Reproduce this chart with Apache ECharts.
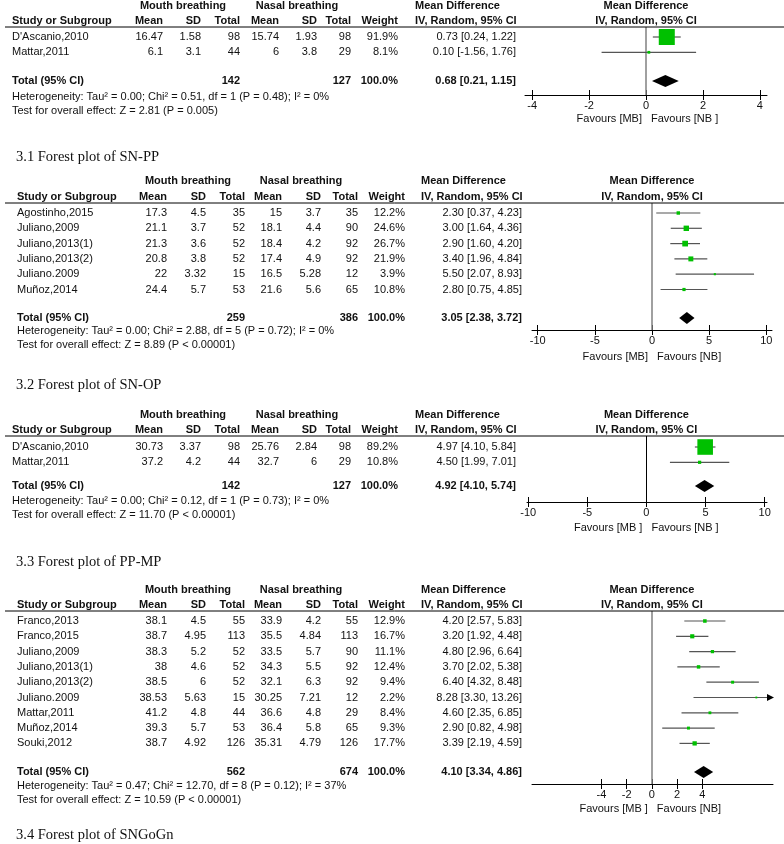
<!DOCTYPE html>
<html><head><meta charset="utf-8">
<script src="https://cdn.jsdelivr.net/npm/echarts@6/dist/echarts.min.js"></script>
<style>html,body{margin:0;padding:0;background:#fff}#c{width:784px;height:844px}</style>
</head><body><div id="c"></div>
<script>
// ================= DATA =================
// Panel 1 (captioned 3.1 Forest plot of SN-PP)
const p1Studies = ["D'Ascanio,2010", "Mattar,2011"];
const p1MbMean = [16.47, 6.1];
const p1MbSD = [1.58, 3.1];
const p1MbN = [98, 44];
const p1NbMean = [15.74, 6];
const p1NbSD = [1.93, 3.8];
const p1NbN = [98, 29];
const p1Weight = [91.9, 8.1];
const p1MD = [0.73, 0.10];
const p1Lo = [0.24, -1.56];
const p1Hi = [1.22, 1.76];
const p1TotalN = [142, 127];
const p1TotalMD = [0.68, 0.21, 1.15];
const p1Het = "Heterogeneity: Tau\u00b2 = 0.00; Chi\u00b2 = 0.51, df = 1 (P = 0.48); I\u00b2 = 0%";
const p1Test = "Test for overall effect: Z = 2.81 (P = 0.005)";
const p1Ticks = [-4, -2, 0, 2, 4];
const p1Favours = ["Favours [MB]", "Favours [NB ]"];
const p1Caption = "3.1 Forest plot of SN-PP";

// Panel 2 (captioned 3.2 Forest plot of SN-OP)
const p2Studies = ["Agostinho,2015", "Juliano,2009", "Juliano,2013(1)", "Juliano,2013(2)", "Juliano.2009", "Mu\u00f1oz,2014"];
const p2MbMean = [17.3, 21.1, 21.3, 20.8, 22, 24.4];
const p2MbSD = [4.5, 3.7, 3.6, 3.8, 3.32, 5.7];
const p2MbN = [35, 52, 52, 52, 15, 53];
const p2NbMean = [15, 18.1, 18.4, 17.4, 16.5, 21.6];
const p2NbSD = [3.7, 4.4, 4.2, 4.9, 5.28, 5.6];
const p2NbN = [35, 90, 92, 92, 12, 65];
const p2Weight = [12.2, 24.6, 26.7, 21.9, 3.9, 10.8];
const p2MD = [2.30, 3.00, 2.90, 3.40, 5.50, 2.80];
const p2Lo = [0.37, 1.64, 1.60, 1.96, 2.07, 0.75];
const p2Hi = [4.23, 4.36, 4.20, 4.84, 8.93, 4.85];
const p2TotalN = [259, 386];
const p2TotalMD = [3.05, 2.38, 3.72];
const p2Het = "Heterogeneity: Tau\u00b2 = 0.00; Chi\u00b2 = 2.88, df = 5 (P = 0.72); I\u00b2 = 0%";
const p2Test = "Test for overall effect: Z = 8.89 (P < 0.00001)";
const p2Ticks = [-10, -5, 0, 5, 10];
const p2Favours = ["Favours [MB]", "Favours [NB]"];
const p2Caption = "3.2 Forest plot of SN-OP";

// Panel 3 (captioned 3.3 Forest plot of PP-MP)
const p3Studies = ["D'Ascanio,2010", "Mattar,2011"];
const p3MbMean = [30.73, 37.2];
const p3MbSD = [3.37, 4.2];
const p3MbN = [98, 44];
const p3NbMean = [25.76, 32.7];
const p3NbSD = [2.84, 6];
const p3NbN = [98, 29];
const p3Weight = [89.2, 10.8];
const p3MD = [4.97, 4.50];
const p3Lo = [4.10, 1.99];
const p3Hi = [5.84, 7.01];
const p3TotalN = [142, 127];
const p3TotalMD = [4.92, 4.10, 5.74];
const p3Het = "Heterogeneity: Tau\u00b2 = 0.00; Chi\u00b2 = 0.12, df = 1 (P = 0.73); I\u00b2 = 0%";
const p3Test = "Test for overall effect: Z = 11.70 (P < 0.00001)";
const p3Ticks = [-10, -5, 0, 5, 10];
const p3Favours = ["Favours [MB ]", "Favours [NB ]"];
const p3Caption = "3.3 Forest plot of PP-MP";

// Panel 4 (captioned 3.4 Forest plot of SNGoGn)
const p4Studies = ["Franco,2013", "Franco,2015", "Juliano,2009", "Juliano,2013(1)", "Juliano,2013(2)", "Juliano.2009", "Mattar,2011", "Mu\u00f1oz,2014", "Souki,2012"];
const p4MbMean = [38.1, 38.7, 38.3, 38, 38.5, 38.53, 41.2, 39.3, 38.7];
const p4MbSD = [4.5, 4.95, 5.2, 4.6, 6, 5.63, 4.8, 5.7, 4.92];
const p4MbN = [55, 113, 52, 52, 52, 15, 44, 53, 126];
const p4NbMean = [33.9, 35.5, 33.5, 34.3, 32.1, 30.25, 36.6, 36.4, 35.31];
const p4NbSD = [4.2, 4.84, 5.7, 5.5, 6.3, 7.21, 4.8, 5.8, 4.79];
const p4NbN = [55, 113, 90, 92, 92, 12, 29, 65, 126];
const p4Weight = [12.9, 16.7, 11.1, 12.4, 9.4, 2.2, 8.4, 9.3, 17.7];
const p4MD = [4.20, 3.20, 4.80, 3.70, 6.40, 8.28, 4.60, 2.90, 3.39];
const p4Lo = [2.57, 1.92, 2.96, 2.02, 4.32, 3.30, 2.35, 0.82, 2.19];
const p4Hi = [5.83, 4.48, 6.64, 5.38, 8.48, 13.26, 6.85, 4.98, 4.59];
const p4TotalN = [562, 674];
const p4TotalMD = [4.10, 3.34, 4.86];
const p4Het = "Heterogeneity: Tau\u00b2 = 0.47; Chi\u00b2 = 12.70, df = 8 (P = 0.12); I\u00b2 = 37%";
const p4Test = "Test for overall effect: Z = 10.59 (P < 0.00001)";
const p4Ticks = [-4, -2, 0, 2, 4];
const p4Favours = ["Favours [MB ]", "Favours [NB]"];
const p4Caption = "3.4 Forest plot of SNGoGn";

// ================= LAYOUT =================
const colsA = {name: 12, mbMean: 163, mbSD: 201, mbN: 240, nbMean: 279, nbSD: 317, nbN: 351, weight: 398, mdR: 516, mdL: 415, mbC: 183, nbC: 297};
const colsB = {name: 17, mbMean: 167, mbSD: 206, mbN: 245, nbMean: 282, nbSD: 321, nbN: 358, weight: 405, mdR: 522, mdL: 421, mbC: 188, nbC: 301};
const layouts = [
  {cols: colsA, h1Y: 6, h2Y: 21, ruleY: 27, row0Y: 37, rowH: 15.3, totalY: 81, hetY: 97, testY: 111, axisY: 95, favY: 119, capY: 157,
   fLeft: 525, fWidth: 242, xMin: -4.25, xMax: 4.25, zeroColor: '#808080', zeroW: 1.5},
  {cols: colsB, h1Y: 181, h2Y: 197, ruleY: 203, row0Y: 213, rowH: 15.3, totalY: 318, hetY: 331, testY: 345, axisY: 330, favY: 357, capY: 385,
   fLeft: 532, fWidth: 240, xMin: -10.5, xMax: 10.5, zeroColor: '#808080', zeroW: 1.5},
  {cols: colsA, h1Y: 415, h2Y: 430, ruleY: 436, row0Y: 447, rowH: 15.3, totalY: 486, hetY: 501, testY: 515, axisY: 502, favY: 528, capY: 562,
   fLeft: 527, fWidth: 240, xMin: -10.1, xMax: 10.2, zeroColor: '#000000', zeroW: 1},
  {cols: colsB, h1Y: 590, h2Y: 605, ruleY: 611, row0Y: 621, rowH: 15.3, totalY: 772, hetY: 786, testY: 800, axisY: 784, favY: 809, capY: 835,
   fLeft: 532, fWidth: 241, xMin: -9.5, xMax: 9.6, zeroColor: '#808080', zeroW: 1.5}
];

const panels = [
  {studies: p1Studies, mbMean: p1MbMean, mbSD: p1MbSD, mbN: p1MbN, nbMean: p1NbMean, nbSD: p1NbSD, nbN: p1NbN, weight: p1Weight, md: p1MD, lo: p1Lo, hi: p1Hi, totN: p1TotalN, totMD: p1TotalMD, het: p1Het, test: p1Test, ticks: p1Ticks, fav: p1Favours, cap: p1Caption},
  {studies: p2Studies, mbMean: p2MbMean, mbSD: p2MbSD, mbN: p2MbN, nbMean: p2NbMean, nbSD: p2NbSD, nbN: p2NbN, weight: p2Weight, md: p2MD, lo: p2Lo, hi: p2Hi, totN: p2TotalN, totMD: p2TotalMD, het: p2Het, test: p2Test, ticks: p2Ticks, fav: p2Favours, cap: p2Caption},
  {studies: p3Studies, mbMean: p3MbMean, mbSD: p3MbSD, mbN: p3MbN, nbMean: p3NbMean, nbSD: p3NbSD, nbN: p3NbN, weight: p3Weight, md: p3MD, lo: p3Lo, hi: p3Hi, totN: p3TotalN, totMD: p3TotalMD, het: p3Het, test: p3Test, ticks: p3Ticks, fav: p3Favours, cap: p3Caption},
  {studies: p4Studies, mbMean: p4MbMean, mbSD: p4MbSD, mbN: p4MbN, nbMean: p4NbMean, nbSD: p4NbSD, nbN: p4NbN, weight: p4Weight, md: p4MD, lo: p4Lo, hi: p4Hi, totN: p4TotalN, totMD: p4TotalMD, het: p4Het, test: p4Test, ticks: p4Ticks, fav: p4Favours, cap: p4Caption}
];

// ================= BUILD =================
const FAM = '"Liberation Sans", Arial, Helvetica, sans-serif';
const SERIF = '"Liberation Serif", "Times New Roman", serif';
const FS = 11;
const TXT = '#111111';
const fnt = (b) => (b ? 'bold ' : '') + FS + 'px ' + FAM;
const f2 = (v) => v.toFixed(2);
const mdStr = (m, l, h) => f2(m) + ' [' + f2(l) + ', ' + f2(h) + ']';

const graphics = [];
function txt(x, y, s, align, bold, font) {
  graphics.push({type: 'text', x: x, y: y, silent: true, z: 10,
    style: {text: String(s), font: font || fnt(bold), fill: TXT, align: align || 'left', verticalAlign: 'middle'}});
}
function hline(x1, x2, y, color, w) {
  graphics.push({type: 'line', silent: true, z: 5, shape: {x1: x1, y1: y, x2: x2, y2: y}, style: {stroke: color, lineWidth: w}});
}

const grids = [], xAxes = [], yAxes = [], series = [];

panels.forEach((p, k) => {
  const L = layouts[k], c = L.cols;
  const rowY = (i) => L.row0Y + i * L.rowH;
  // headers
  txt(c.mbC, L.h1Y, 'Mouth breathing', 'center', true);
  txt(c.nbC, L.h1Y, 'Nasal breathing', 'center', true);
  txt(c.mdL, L.h1Y, 'Mean Difference', 'left', true);
  txt(c.name, L.h2Y, 'Study or Subgroup', 'left', true);
  txt(c.mbMean, L.h2Y, 'Mean', 'right', true);
  txt(c.mbSD, L.h2Y, 'SD', 'right', true);
  txt(c.mbN, L.h2Y, 'Total', 'right', true);
  txt(c.nbMean, L.h2Y, 'Mean', 'right', true);
  txt(c.nbSD, L.h2Y, 'SD', 'right', true);
  txt(c.nbN, L.h2Y, 'Total', 'right', true);
  txt(c.weight, L.h2Y, 'Weight', 'right', true);
  txt(c.mdL, L.h2Y, 'IV, Random, 95% CI', 'left', true);
  hline(5, 784, L.ruleY, '#000', 1);
  // rows
  p.studies.forEach((s, i) => {
    const y = rowY(i);
    txt(c.name, y, s, 'left');
    txt(c.mbMean, y, p.mbMean[i], 'right');
    txt(c.mbSD, y, p.mbSD[i], 'right');
    txt(c.mbN, y, p.mbN[i], 'right');
    txt(c.nbMean, y, p.nbMean[i], 'right');
    txt(c.nbSD, y, p.nbSD[i], 'right');
    txt(c.nbN, y, p.nbN[i], 'right');
    txt(c.weight, y, p.weight[i].toFixed(1) + '%', 'right');
    txt(c.mdR, y, mdStr(p.md[i], p.lo[i], p.hi[i]), 'right');
  });
  // total
  txt(c.name, L.totalY, 'Total (95% CI)', 'left', true);
  txt(c.mbN, L.totalY, p.totN[0], 'right', true);
  txt(c.nbN, L.totalY, p.totN[1], 'right', true);
  txt(c.weight, L.totalY, '100.0%', 'right', true);
  txt(c.mdR, L.totalY, mdStr(p.totMD[0], p.totMD[1], p.totMD[2]), 'right', true);
  txt(c.name, L.hetY, p.het, 'left');
  txt(c.name, L.testY, p.test, 'left');
  txt(16, L.capY, p.cap, 'left', false, '14.5px ' + SERIF);

  // forest plot
  const zeroX = L.fLeft + (0 - L.xMin) / (L.xMax - L.xMin) * L.fWidth;
  txt(zeroX, L.h1Y, 'Mean Difference', 'center', true);
  txt(zeroX, L.h2Y, 'IV, Random, 95% CI', 'center', true);
  txt(zeroX - 4, L.favY, p.fav[0], 'right');
  txt(zeroX + 5, L.favY, p.fav[1], 'left');

  grids.push({left: L.fLeft, width: L.fWidth, top: L.ruleY, height: L.axisY - L.ruleY, containLabel: false});
  xAxes.push({gridIndex: k, type: 'value', position: 'bottom', min: L.xMin, max: L.xMax,
    axisLine: {show: true, onZero: false, lineStyle: {color: '#000', width: 1}},
    axisTick: {show: true, inside: false, length: 5, customValues: p.ticks, lineStyle: {color: '#000', width: 1}},
    axisLabel: {show: true, customValues: p.ticks, margin: 5, color: TXT, fontSize: FS, fontFamily: FAM},
    splitLine: {show: false}});
  xAxes.push({gridIndex: k, type: 'value', position: 'bottom', min: L.xMin, max: L.xMax,
    axisLine: {show: false, onZero: false},
    axisTick: {show: true, inside: true, length: 5, customValues: p.ticks, lineStyle: {color: '#000', width: 1}},
    axisLabel: {show: false}, splitLine: {show: false}});
  yAxes.push({gridIndex: k, type: 'value', inverse: true,
    min: (L.ruleY - L.row0Y) / L.rowH, max: (L.axisY - L.row0Y) / L.rowH, show: false});

  const rows = p.studies.map((s, i) => [p.md[i], p.lo[i], p.hi[i], i, p.weight[i], 0]);
  rows.push([p.totMD[0], p.totMD[1], p.totMD[2], (L.totalY - L.row0Y) / L.rowH, 100, 1]);

  series.push({
    type: 'custom', xAxisIndex: 2 * k, yAxisIndex: k, silent: true, clip: false,
    encode: {x: [0, 1, 2], y: 3},
    data: rows,
    markLine: {silent: true, symbol: ['none', 'none'], label: {show: false},
      lineStyle: {color: L.zeroColor, width: L.zeroW, type: 'solid'}, data: [{xAxis: 0}], z: 1},
    renderItem: function (params, api) {
      const md = api.value(0), lo = api.value(1), hi = api.value(2), yv = api.value(3), w = api.value(4), kind = api.value(5);
      const cs = params.coordSys;
      const pc = api.coord([md, yv]), pl = api.coord([lo, yv]), ph = api.coord([hi, yv]);
      const y = pc[1];
      if (kind === 1) {
        return {type: 'polygon', z2: 20, shape: {points: [[pl[0], y], [pc[0], y - 6], [ph[0], y], [pc[0], y + 6]]}, style: {fill: '#000'}};
      }
      const right = cs.x + cs.width, left = cs.x;
      const xR = Math.min(ph[0], right), xL = Math.max(pl[0], left);
      const ch = [{type: 'line', z2: 10, shape: {x1: xL, y1: y, x2: xR, y2: y}, style: {stroke: '#555', lineWidth: 1.2}}];
      if (ph[0] > right) {
        ch.push({type: 'polygon', z2: 11, shape: {points: [[right + 1, y], [right - 6, y - 3.5], [right - 6, y + 3.5]]}, style: {fill: '#000'}});
      }
      const s = 1.5 + 0.158 * w;
      ch.push({type: 'rect', z2: 12, shape: {x: pc[0] - s / 2, y: y - s / 2, width: s, height: s}, style: {fill: '#00c000'}});
      return {type: 'group', children: ch};
    }
  });
});

const chart = echarts.init(document.getElementById('c'), null, {renderer: 'canvas', width: 784, height: 844});
chart.setOption({
  animation: false,
  backgroundColor: '#ffffff',
  grid: grids, xAxis: xAxes, yAxis: yAxes, series: series,
  graphic: {elements: graphics}
});
</script>
</body></html>
